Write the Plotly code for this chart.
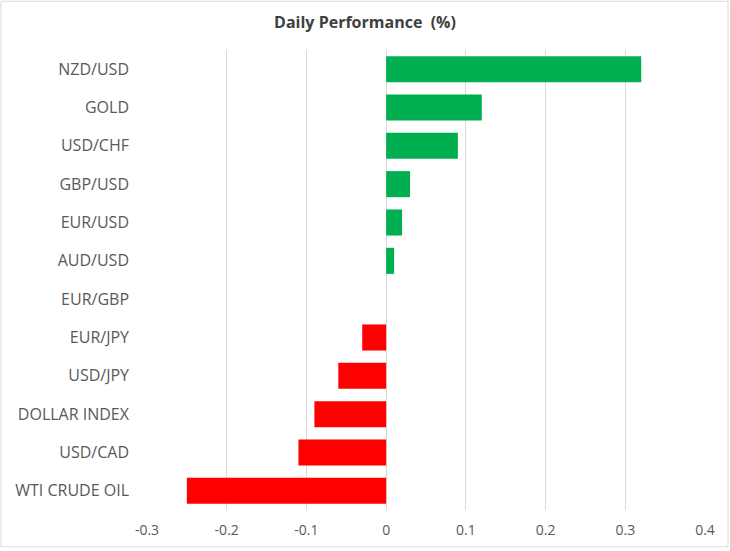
import plotly.graph_objects as go

# Data (top to bottom)
instruments = ["NZD/USD", "GOLD", "USD/CHF", "GBP/USD", "EUR/USD", "AUD/USD",
               "EUR/GBP", "EUR/JPY", "USD/JPY", "DOLLAR INDEX", "USD/CAD", "WTI CRUDE OIL"]
changes = [0.32, 0.12, 0.09, 0.03, 0.02, 0.01, 0.0, -0.03, -0.06, -0.09, -0.11, -0.25]
tick_vals = [-0.3, -0.2, -0.1, 0, 0.1, 0.2, 0.3, 0.4]
tick_text = ["-0.3", "-0.2", "-0.1", "0", "0.1", "0.2", "0.3", "0.4"]

GREEN = "#00B050"
RED = "#FF0000"
colors = [GREEN if v >= 0 else RED for v in changes]

W, H = 730, 551
ml, mr, mt, mb = 147, 25, 50, 39
pw, ph = W - ml - mr, H - mt - mb

fig = go.Figure()
fig.add_trace(go.Bar(
    x=changes,
    y=instruments,
    orientation="h",
    marker=dict(color=colors, line=dict(width=0)),
    hoverinfo="x+y",
))

fig.update_layout(
    width=W,
    height=H,
    margin=dict(l=ml, r=mr, t=mt, b=mb),
    paper_bgcolor="white",
    plot_bgcolor="white",
    bargap=0.32,
    showlegend=False,
    font=dict(family="Open Sans, sans-serif", size=14, color="#595959"),
    title=dict(
        text="<b>Daily Performance  (%)</b>",
        x=0.5,
        xref="container",
        xanchor="center",
        y=1 - 22 / H,
        yanchor="middle",
        font=dict(size=16, color="#404040"),
    ),
    xaxis=dict(
        range=[-0.3, 0.4],
        tickvals=tick_vals,
        ticktext=tick_text,
        showgrid=True,
        gridcolor="#D9D9D9",
        gridwidth=1,
        zeroline=True,
        zerolinecolor="#D9D9D9",
        zerolinewidth=1,
        showline=False,
        ticks="",
        ticklabelstandoff=10,
        tickfont=dict(size=14, color="#595959"),
    ),
    yaxis=dict(
        autorange="reversed",
        showgrid=False,
        showline=False,
        ticks="",
        ticklabelstandoff=17,
        tickfont=dict(size=16, color="#595959"),
    ),
    shapes=[dict(
        type="rect",
        xref="paper", yref="paper",
        x0=(1 - ml) / pw, x1=(W - 2 - ml) / pw,
        y0=-(mb - 2) / ph, y1=(ph + mt - 1) / ph,
        line=dict(color="#D9D9D9", width=1),
        fillcolor="rgba(0,0,0,0)",
        layer="below",
    )],
)

# the page has a default 8px body margin; drop it so the chart sits at 0,0
fig.write_html(
    "out.html",
    config={"displayModeBar": False},
    post_script="document.body.style.margin='0';",
)
